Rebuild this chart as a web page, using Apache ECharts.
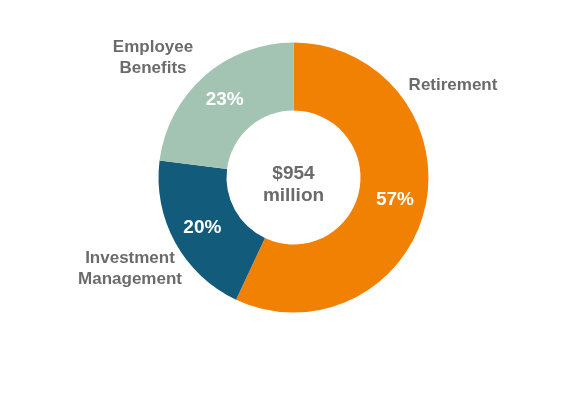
<!DOCTYPE html>
<html><head><meta charset="utf-8">
<script src="https://cdn.jsdelivr.net/npm/echarts@6/dist/echarts.min.js"></script>
<style>html,body{margin:0;padding:0;background:#fff}#c{width:579px;height:414px}</style>
</head><body><div id="c"></div>
<script>
const categories = ['Retirement', 'Investment Management', 'Employee Benefits'];
const labelLines = [['Retirement'], ['Investment', 'Management'], ['Employee', 'Benefits']];
const values = [57, 20, 23];
const colors = ['#F18103', '#135B7A', '#A3C4B3'];
const centerLines = ['$954', 'million'];

const chart = echarts.init(document.getElementById('c'), null, {renderer: 'canvas'});
const cx = 293.5, cy = 177.5;
const labelPos = [[453, 85], [130, 269], [153, 58]];
const gray = '#6B6B6B';
const font = 'Liberation Sans, Arial, sans-serif';

const graphic = categories.map((c, i) => ({
  type: 'text', x: labelPos[i][0], y: labelPos[i][1],
  style: {text: labelLines[i].join('\n'), fill: gray, font: 'bold 17px ' + font,
    textAlign: 'center', textVerticalAlign: 'middle', lineHeight: 21}
}));
graphic.push({type: 'text', x: cx, y: cy + 7,
  style: {text: centerLines.join('\n'), fill: gray, font: 'bold 19px ' + font,
    textAlign: 'center', textVerticalAlign: 'middle', lineHeight: 22}});

chart.setOption({
  animation: false,
  graphic: graphic,
  series: [{
    type: 'pie',
    center: [cx, cy],
    radius: [67, 135],
    startAngle: 90,
    clockwise: true,
    silent: true,
    data: categories.map((c, i) => ({name: c, value: values[i], itemStyle: {color: colors[i]}})),
    label: {
      position: 'inside', formatter: '{c}%', color: '#fff',
      fontFamily: font, fontWeight: 'bold', fontSize: 19, padding: [3, 0, 0, 0]
    },
    labelLine: {show: false}
  }]
});
</script></body></html>
